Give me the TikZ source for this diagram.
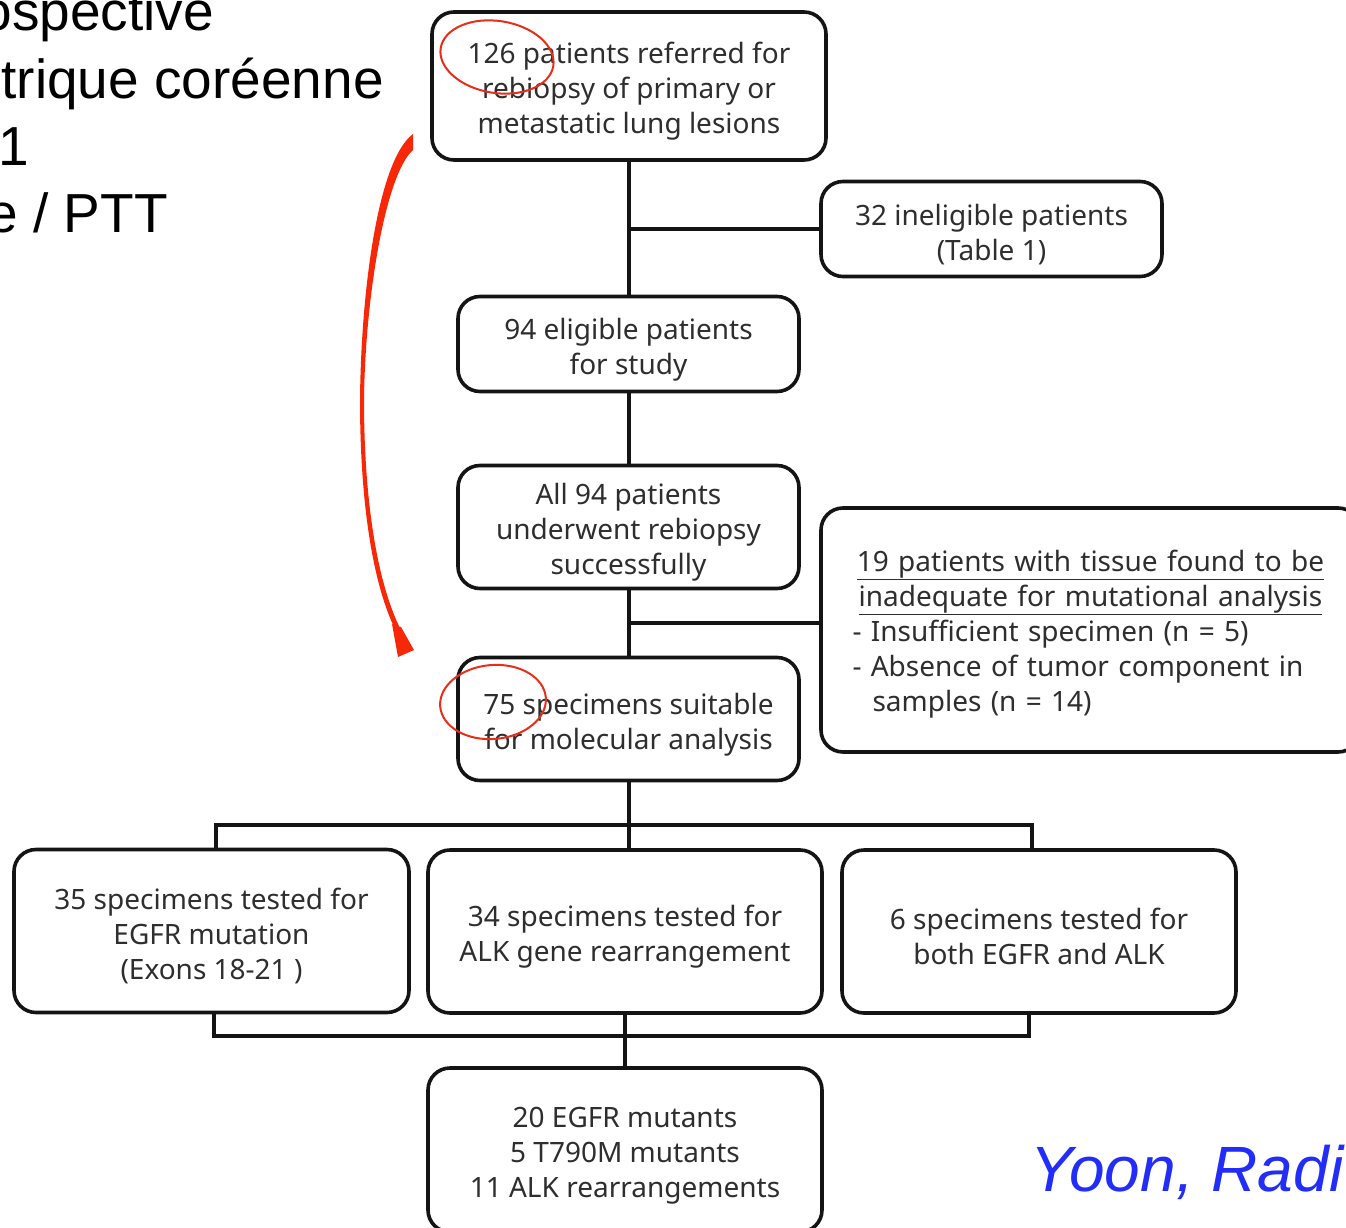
\documentclass[tikz,border=0pt]{standalone}
\usepackage{fontspec}
\setmainfont{Noto Sans}
\newfontfamily\arialfont{Liberation Sans}
\definecolor{arrowred}{RGB}{246,40,8}
\definecolor{ringred}{RGB}{232,45,25}
\definecolor{citeblue}{RGB}{35,45,250}
\newcommand{\ulinetext}[1]{\underline{#1}}
\newcommand{\firstline}{\rule{0pt}{32pt}}
\begin{document}
\begin{tikzpicture}[x=1pt,y=-1pt,
  box/.style={draw=black!92, line width=3.6pt, rounded corners=22pt, align=center,
    inner sep=0pt, outer sep=0pt, font=\fontsize{28}{35}\selectfont, text=black!82},
  conn/.style={draw=black!92, line width=3.6pt},
  ring/.style={draw=ringred, line width=2pt},
  bigtext/.style={inner sep=0pt, font=\arialfont\fontsize{55}{66}\selectfont, text=black}]
\useasboundingbox (0,0) rectangle (1346,1228);
\clip (0,0) rectangle (1346,1228);
\fill[white] (0,0) rectangle (1346,1228);

% left-hand slide text (cut at the left edge)
\node[bigtext, anchor=base east] (t1) at (214,31) {ospective};
\node[bigtext, anchor=base east] (t2) at (384,99) {trique coréenne};
\node[bigtext, anchor=base east] (t3) at (29,165) {1};
\node[bigtext, anchor=base east] (t4) at (168,232) {e / PTT};

% boxes
\node[box, minimum width=394pt, minimum height=148pt] (n1) at (629,86)
  {\firstline 126 patients referred for\\ rebiopsy of primary or\\ metastatic lung lesions};
\node[box, minimum width=341pt, minimum height=95pt] (n2) at (991.5,229)
  {\firstline 32 ineligible patients\\ (Table 1)};
\node[box, minimum width=341pt, minimum height=95pt] (n3) at (628.5,344)
  {\firstline 94 eligible patients\\ for study};
\node[box, minimum width=341pt, minimum height=123pt] (n4) at (628.5,527)
  {\firstline All 94 patients\\ underwent rebiopsy\\ successfully};
\node[box, minimum width=539pt, minimum height=244pt, text width=476pt, align=left] (n5) at (1090.5,630)
  {\rule{0pt}{29pt}\makebox[476pt]{\ulinetext{19 patients with tissue found to be}}\\
   \makebox[476pt]{\ulinetext{inadequate for mutational analysis}}\\
   - Insufficient specimen (n = 5)\\
   - Absence of tumor component in\\
   \hspace*{20pt}samples (n = 14)};
\node[box, minimum width=341pt, minimum height=123pt] (n6) at (628.5,719)
  {\firstline 75 specimens suitable\\ for molecular analysis};
\node[box, minimum width=395pt, minimum height=163pt] (n7) at (211.5,931)
  {\firstline 35 specimens tested for\\ EGFR mutation\\ (Exons 18-21 )};
\node[box, minimum width=394pt, minimum height=163pt] (n8) at (625,931.5)
  {\firstline 34 specimens tested for\\ ALK gene rearrangement};
\node[box, minimum width=394pt, minimum height=163pt] (n9) at (1039,931.5)
  {\firstline 6 specimens tested for\\ both EGFR and ALK};
\node[box, minimum width=394pt, minimum height=164pt] (n10) at (625,1150)
  {\firstline 20 EGFR mutants\\ 5 T790M mutants\\ 11 ALK rearrangements};

% connectors
\coordinate (j1) at (629,229);
\coordinate (j2) at (629,623);
\coordinate (ta) at (216,825);
\coordinate (tb) at (629,825);
\coordinate (tc) at (1032,825);
\coordinate (ba) at (214,1036);
\coordinate (bb) at (625,1036);
\coordinate (bc) at (1029,1036);
\draw[conn] (j1 |- n1.south) -- (j1 |- n3.north);
\draw[conn] (j1) -- (j1 -| n2.west);
\draw[conn] (j1 |- n3.south) -- (j1 |- n4.north);
\draw[conn] (j2 |- n4.south) -- (j2 |- n6.north);
\draw[conn] (j2) -- (j2 -| n5.west);
\draw[conn] (tb |- n6.south) -- (tb);
\draw[conn] (ta |- n7.north) -- (ta) -- (tc) -- (tc |- n9.north);
\draw[conn] (tb) -- (tb |- n8.north);
\draw[conn] (ba |- n7.south) -- (ba) -- (bc) -- (bc |- n9.south);
\draw[conn] (bb |- n8.south) -- (bb |- n10.north);

% red annotations
\draw[ring, rotate around={-9:(497,57)}] (497,57) ellipse [x radius=57, y radius=36];
\draw[ring, rotate around={5:(493,702)}] (493,702) ellipse [x radius=53, y radius=37];
\fill[arrowred] (413,134) .. controls (378,160) and (361,290) .. (360,400)
  .. controls (360,500) and (372,580) .. (394,627)
  -- (399,626)
  .. controls (377,580) and (364,500) .. (364,400)
  .. controls (365,300) and (385,175) .. (413,150) -- cycle;
\fill[arrowred] (392,624) -- (401,627) -- (414,650) -- (398,657) -- cycle;

% citation
\node[inner sep=0pt, anchor=base west, font=\arialfont\itshape\fontsize{64}{70}\selectfont, text=citeblue] (cite) at (1030,1191) {Yoon, Radi};
\end{tikzpicture}
\end{document}
